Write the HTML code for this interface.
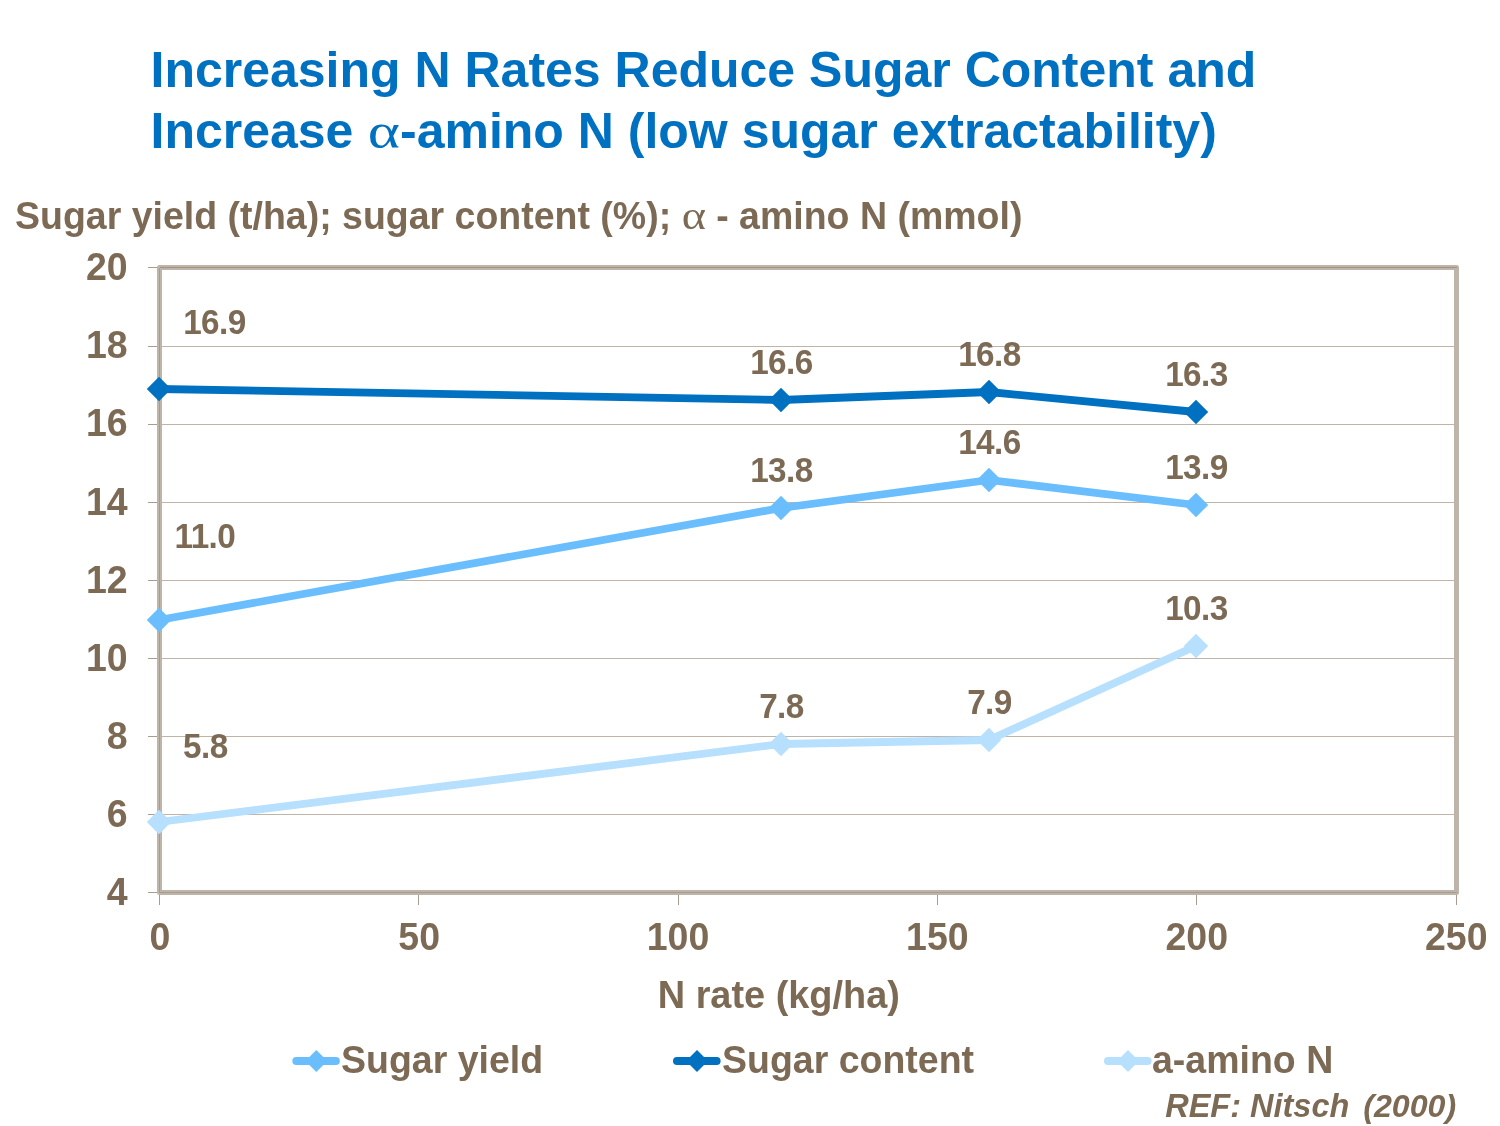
<!DOCTYPE html>
<html lang="en">
<head>
<meta charset="utf-8">
<title>Increasing N Rates Reduce Sugar Content</title>
<style>
html,body{margin:0;padding:0;background:#fff;}
body{width:1500px;height:1126px;overflow:hidden;font-family:"Liberation Sans",sans-serif;}
svg{display:block;}
text{font-family:"Liberation Sans",sans-serif;font-weight:bold;}
.t{fill:#0070c0;font-size:50px;}
.b{fill:#7c6a55;}
.sym{font-family:"Liberation Serif",serif;font-weight:normal;}
</style>
</head>
<body>
<svg width="1500" height="1126" viewBox="0 0 1500 1126">
<rect width="1500" height="1126" fill="#ffffff"/>
<!-- title -->
<text class="t" x="150.5" y="87.2">Increasing N Rates Reduce Sugar Content and</text>
<text class="t" x="150.5" y="148">Increase</text>
<text class="t sym" transform="translate(367.8 148) scale(1.229 1)">α</text>
<text class="t" x="400" y="148">-amino N (low sugar extractability)</text>
<!-- y-axis title -->
<text class="b" transform="translate(15 229.3) scale(1 1.045)" font-size="37.5">Sugar yield (t/ha); sugar content (%);</text>
<text class="b sym" font-size="37.5" transform="translate(681.7 229.3) scale(1.23 1.045)">α</text>
<text class="b" transform="translate(716.2 229.3) scale(1 1.045)" font-size="37.5">- amino N (mmol)</text>
<!-- gridlines, ticks -->
<g fill="none" stroke-width="1">
<path stroke="#c0b4a9" d="M160 346.5H1456M160 424.5H1456M160 502.5H1456M160 580.5H1456M160 658.5H1456M160 736.5H1456M160 814.5H1456"/>
<path stroke="#a89c90" d="M148 267.5H158M148 346.5H158M148 424.5H158M148 502.5H158M148 580.5H158M148 658.5H158M148 736.5H158M148 814.5H158M148 892.5H158"/>
<path stroke="#a89c90" d="M159.5 893V905M418.5 893V905M678.5 893V905M937.5 893V905M1196.5 893V905M1456.5 893V905"/>
</g>
<!-- plot border -->
<rect x="159.5" y="267.5" width="1297" height="625" fill="none" stroke="#bfb4a9" stroke-width="5" stroke-linejoin="round"/>
<path d="M160 267.5H1457" fill="none" stroke="#a29282" stroke-width="1"/>
<path d="M159.5 268V893M160 892.5H1457" fill="none" stroke="#a89d92" stroke-width="1"/>
<!-- y labels -->
<text class="b" transform="translate(127.6 280.2) scale(1 1.045)" font-size="37.5" text-anchor="end">20</text>
<text class="b" transform="translate(127.6 358.3) scale(1 1.045)" font-size="37.5" text-anchor="end">18</text>
<text class="b" transform="translate(127.6 436.4) scale(1 1.045)" font-size="37.5" text-anchor="end">16</text>
<text class="b" transform="translate(127.6 514.6) scale(1 1.045)" font-size="37.5" text-anchor="end">14</text>
<text class="b" transform="translate(127.6 592.7) scale(1 1.045)" font-size="37.5" text-anchor="end">12</text>
<text class="b" transform="translate(127.6 670.8) scale(1 1.045)" font-size="37.5" text-anchor="end">10</text>
<text class="b" transform="translate(127.6 748.9) scale(1 1.045)" font-size="37.5" text-anchor="end">8</text>
<text class="b" transform="translate(127.6 827.1) scale(1 1.045)" font-size="37.5" text-anchor="end">6</text>
<text class="b" transform="translate(127.6 905.2) scale(1 1.045)" font-size="37.5" text-anchor="end">4</text>
<!-- x labels -->
<text class="b" transform="translate(160.0 949.6) scale(1 1.045)" font-size="37.5" text-anchor="middle">0</text>
<text class="b" transform="translate(419.2 949.6) scale(1 1.045)" font-size="37.5" text-anchor="middle">50</text>
<text class="b" transform="translate(678.0 949.6) scale(1 1.045)" font-size="37.5" text-anchor="middle">100</text>
<text class="b" transform="translate(937.3 949.6) scale(1 1.045)" font-size="37.5" text-anchor="middle">150</text>
<text class="b" transform="translate(1196.7 949.6) scale(1 1.045)" font-size="37.5" text-anchor="middle">200</text>
<text class="b" transform="translate(1456.2 949.6) scale(1 1.045)" font-size="37.5" text-anchor="middle">250</text>
<text class="b" transform="translate(778.8 1007.6) scale(1 1.045)" font-size="37.9" text-anchor="middle">N rate (kg/ha)</text>
<!-- series -->
<polyline fill="none" stroke="#b7dffe" stroke-width="7.8" stroke-linejoin="round" points="159,822 781,744 989,740 1196,646"/>
<path fill="#b7dffe" d="M159 809.8L171.2 822L159 834.2L146.8 822ZM781 731.8L793.2 744L781 756.2L768.8 744ZM989 727.8L1001.2 740L989 752.2L976.8 740ZM1196 633.8L1208.2 646L1196 658.2L1183.8 646Z"/>
<polyline fill="none" stroke="#6bbefd" stroke-width="7.8" stroke-linejoin="round" points="159,620 781,508 989,480 1196,505"/>
<path fill="#6bbefd" d="M159 607.8L171.2 620L159 632.2L146.8 620ZM781 495.8L793.2 508L781 520.2L768.8 508ZM989 467.8L1001.2 480L989 492.2L976.8 480ZM1196 492.8L1208.2 505L1196 517.2L1183.8 505Z"/>
<polyline fill="none" stroke="#0070c0" stroke-width="7.8" stroke-linejoin="round" points="159,389 781,400 989,392 1196,412"/>
<path fill="#0070c0" d="M159 376.8L171.2 389L159 401.2L146.8 389ZM781 387.8L793.2 400L781 412.2L768.8 400ZM989 379.8L1001.2 392L989 404.2L976.8 392ZM1196 399.8L1208.2 412L1196 424.2L1183.8 412Z"/>
<!-- data labels -->
<text class="b" transform="translate(781.4 717.5) scale(1 1.045)" font-size="33.33" text-anchor="middle" letter-spacing="-0.6">7.8</text>
<text class="b" transform="translate(989.4 713.5) scale(1 1.045)" font-size="33.33" text-anchor="middle" letter-spacing="-0.6">7.9</text>
<text class="b" transform="translate(1196.4 619.5) scale(1 1.045)" font-size="33.33" text-anchor="middle" letter-spacing="-0.6">10.3</text>
<text class="b" transform="translate(781.4 481.5) scale(1 1.045)" font-size="33.33" text-anchor="middle" letter-spacing="-0.6">13.8</text>
<text class="b" transform="translate(989.4 453.5) scale(1 1.045)" font-size="33.33" text-anchor="middle" letter-spacing="-0.6">14.6</text>
<text class="b" transform="translate(1196.4 478.5) scale(1 1.045)" font-size="33.33" text-anchor="middle" letter-spacing="-0.6">13.9</text>
<text class="b" transform="translate(781.4 373.5) scale(1 1.045)" font-size="33.33" text-anchor="middle" letter-spacing="-0.6">16.6</text>
<text class="b" transform="translate(989.4 365.5) scale(1 1.045)" font-size="33.33" text-anchor="middle" letter-spacing="-0.6">16.8</text>
<text class="b" transform="translate(1196.4 385.5) scale(1 1.045)" font-size="33.33" text-anchor="middle" letter-spacing="-0.6">16.3</text>
<text class="b" transform="translate(214.4 333.9) scale(1 1.045)" font-size="33.33" text-anchor="middle" letter-spacing="-0.6">16.9</text>
<text class="b" transform="translate(204.9 547.6) scale(1 1.045)" font-size="33.33" text-anchor="middle" letter-spacing="-0.6">11.0</text>
<text class="b" transform="translate(205.3 757.8) scale(1 1.045)" font-size="33.33" text-anchor="middle" letter-spacing="-0.6">5.8</text>
<!-- legend -->
<line x1="296.3" y1="1061" x2="335.90000000000003" y2="1061" stroke="#6bbefd" stroke-width="8" stroke-linecap="round"/>
<path d="M316.3 1050L327.3 1061L316.3 1072L305.3 1061Z" fill="#6bbefd"/>
<line x1="677" y1="1061" x2="716.6" y2="1061" stroke="#0070c0" stroke-width="8" stroke-linecap="round"/>
<path d="M697 1050L708 1061L697 1072L686 1061Z" fill="#0070c0"/>
<line x1="1108" y1="1061" x2="1147.6" y2="1061" stroke="#b7dffe" stroke-width="8" stroke-linecap="round"/>
<path d="M1128 1050L1139 1061L1128 1072L1117 1061Z" fill="#b7dffe"/>
<text class="b" transform="translate(341 1072.7) scale(1 1.045)" font-size="37.5">Sugar yield</text>
<text class="b" transform="translate(722 1072.7) scale(1 1.045)" font-size="37.5">Sugar content</text>
<text class="b" transform="translate(1152 1072.7) scale(1 1.045)" font-size="37.5">a-amino N</text>
<text class="b" x="1165.2" y="1116.8" font-size="32.5" font-style="italic">REF: Nitsch</text>
<text class="b" x="1363.2" y="1116.8" font-size="32.2" font-style="italic">(2000)</text>
</svg>
</body>
</html>
